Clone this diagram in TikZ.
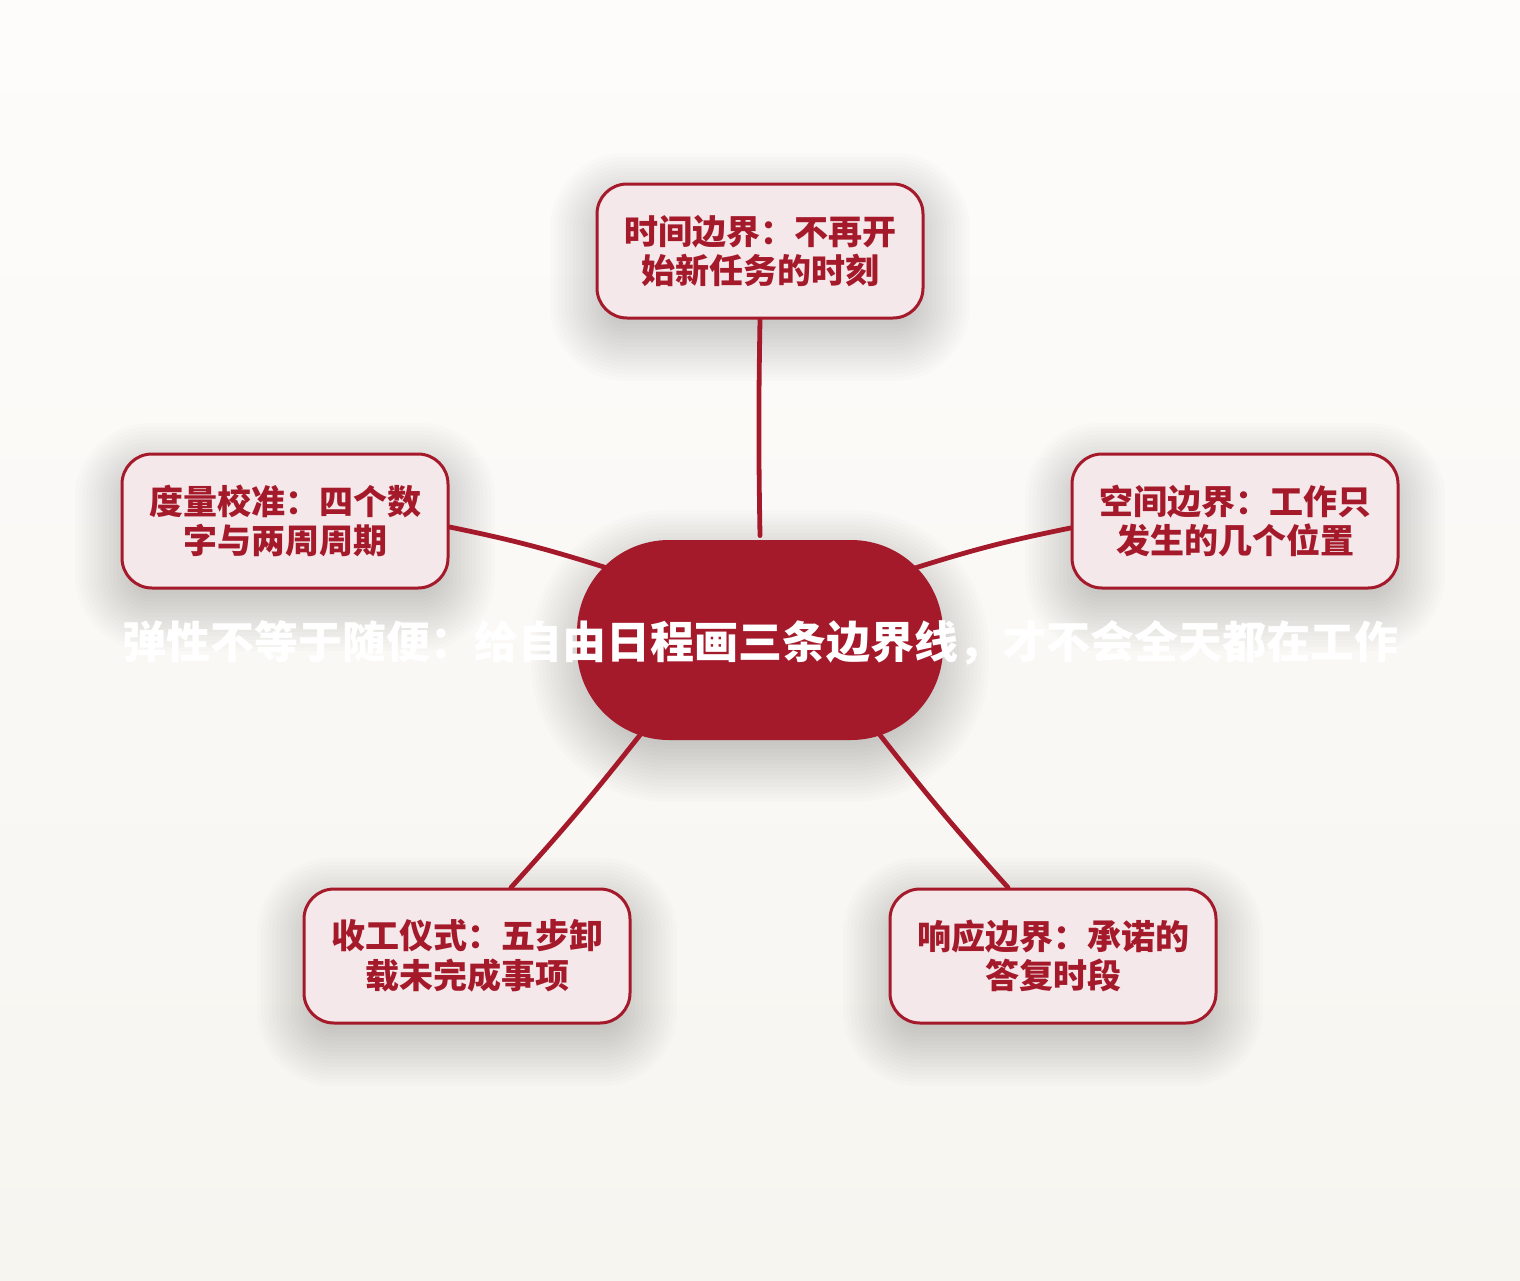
\documentclass[tikz,border=0pt]{standalone}
\usepackage{fontspec}
\newfontfamily\cjk{Noto Sans CJK SC}
\usetikzlibrary{calc}
\definecolor{deepred}{HTML}{A51A2B}
\definecolor{pinkfill}{HTML}{F5E8EA}
\definecolor{bgtop}{HTML}{FDFCFB}
\definecolor{bgbot}{HTML}{F7F5F0}
\pgfdeclarelayer{bg}
\pgfdeclarelayer{shadow}
\pgfdeclarelayer{edges}
\pgfsetlayers{bg,shadow,edges,main}
\tikzset{
  sat/.style={draw=deepred, line width=1.5pt, fill=pinkfill, rounded corners=15pt,
    minimum width=163pt, minimum height=67pt, inner sep=0pt, align=center,
    text=deepred, font=\cjk\bfseries\fontsize{17pt}{19.8pt}\selectfont},
  hub/.style={fill=deepred, rounded corners=46pt, minimum width=183pt, minimum height=100pt,
    inner sep=0pt},
  hubtext/.style={text=white, font=\cjk\bfseries\fontsize{22pt}{24pt}\selectfont, inner sep=0pt},
  link/.style={draw=deepred, line width=2.4pt, line cap=round},
  shade piece/.style={fill=black, opacity=0.011}
}
\newcommand\softshadow[2]{%
  \foreach \k in {-8,...,12}{%
    \pgfmathsetmacro\rr{max(#2+\k*1.9pt,1pt)}%
    \fill[shade piece, rounded corners=\rr pt]
      ([xshift={-\k*1.9pt}, yshift={-8pt-\k*1.9pt}]#1.south west) rectangle
      ([xshift={\k*1.9pt}, yshift={-8pt+\k*1.9pt}]#1.north east);
  }%
}
\begin{document}
\begin{tikzpicture}[x=0.5pt,y=-0.5pt]
\begin{pgfonlayer}{bg}
\fill[top color=bgtop, bottom color=bgbot] (0,0) rectangle (1520,1280);
\end{pgfonlayer}
\useasboundingbox (0,0) rectangle (1520,1280);
\node[hub] (hub) at (760,640) {};
\node[sat] (top) at (760,251) {时间边界：不再开\\始新任务的时刻};
\node[sat] (left) at (285,521) {度量校准：四个数\\字与两周周期};
\node[sat] (right) at (1235,521) {空间边界：工作只\\发生的几个位置};
\node[sat] (bl) at (467,956) {收工仪式：五步卸\\载未完成事项};
\node[sat] (br) at (1053,956) {响应边界：承诺的\\答复时段};
\begin{pgfonlayer}{shadow}
\softshadow{hub}{46}
\softshadow{top}{15}
\softshadow{left}{15}
\softshadow{right}{15}
\softshadow{bl}{15}
\softshadow{br}{15}
\end{pgfonlayer}
\coordinate (hl) at ($(hub.center)+(-153,-72)$);
\coordinate (hr) at ($(hub.center)+(155,-72)$);
\coordinate (hbl) at ($(hub.center)+(-120,95)$);
\coordinate (hbr) at ($(hub.center)+(120,95)$);
\begin{pgfonlayer}{edges}
\draw[link] ([yshift=2pt]hub.north) to[bend left=1] (top.south);
\draw[link] (hl) to[bend right=3] ([yshift=-3pt]left.east);
\draw[link] (hr) to[bend left=3] ([yshift=-3.5pt]right.west);
\draw[link] (hbl) to[bend left=2] ([xshift=22pt]bl.north);
\draw[link] (hbr) to[bend right=2] ([xshift=-22.5pt]br.north);
\end{pgfonlayer}
\node[hubtext] (htext) at (760,643) {弹性不等于随便：给自由日程画三条边界线，才不会全天都在工作};
\end{tikzpicture}
\end{document}
